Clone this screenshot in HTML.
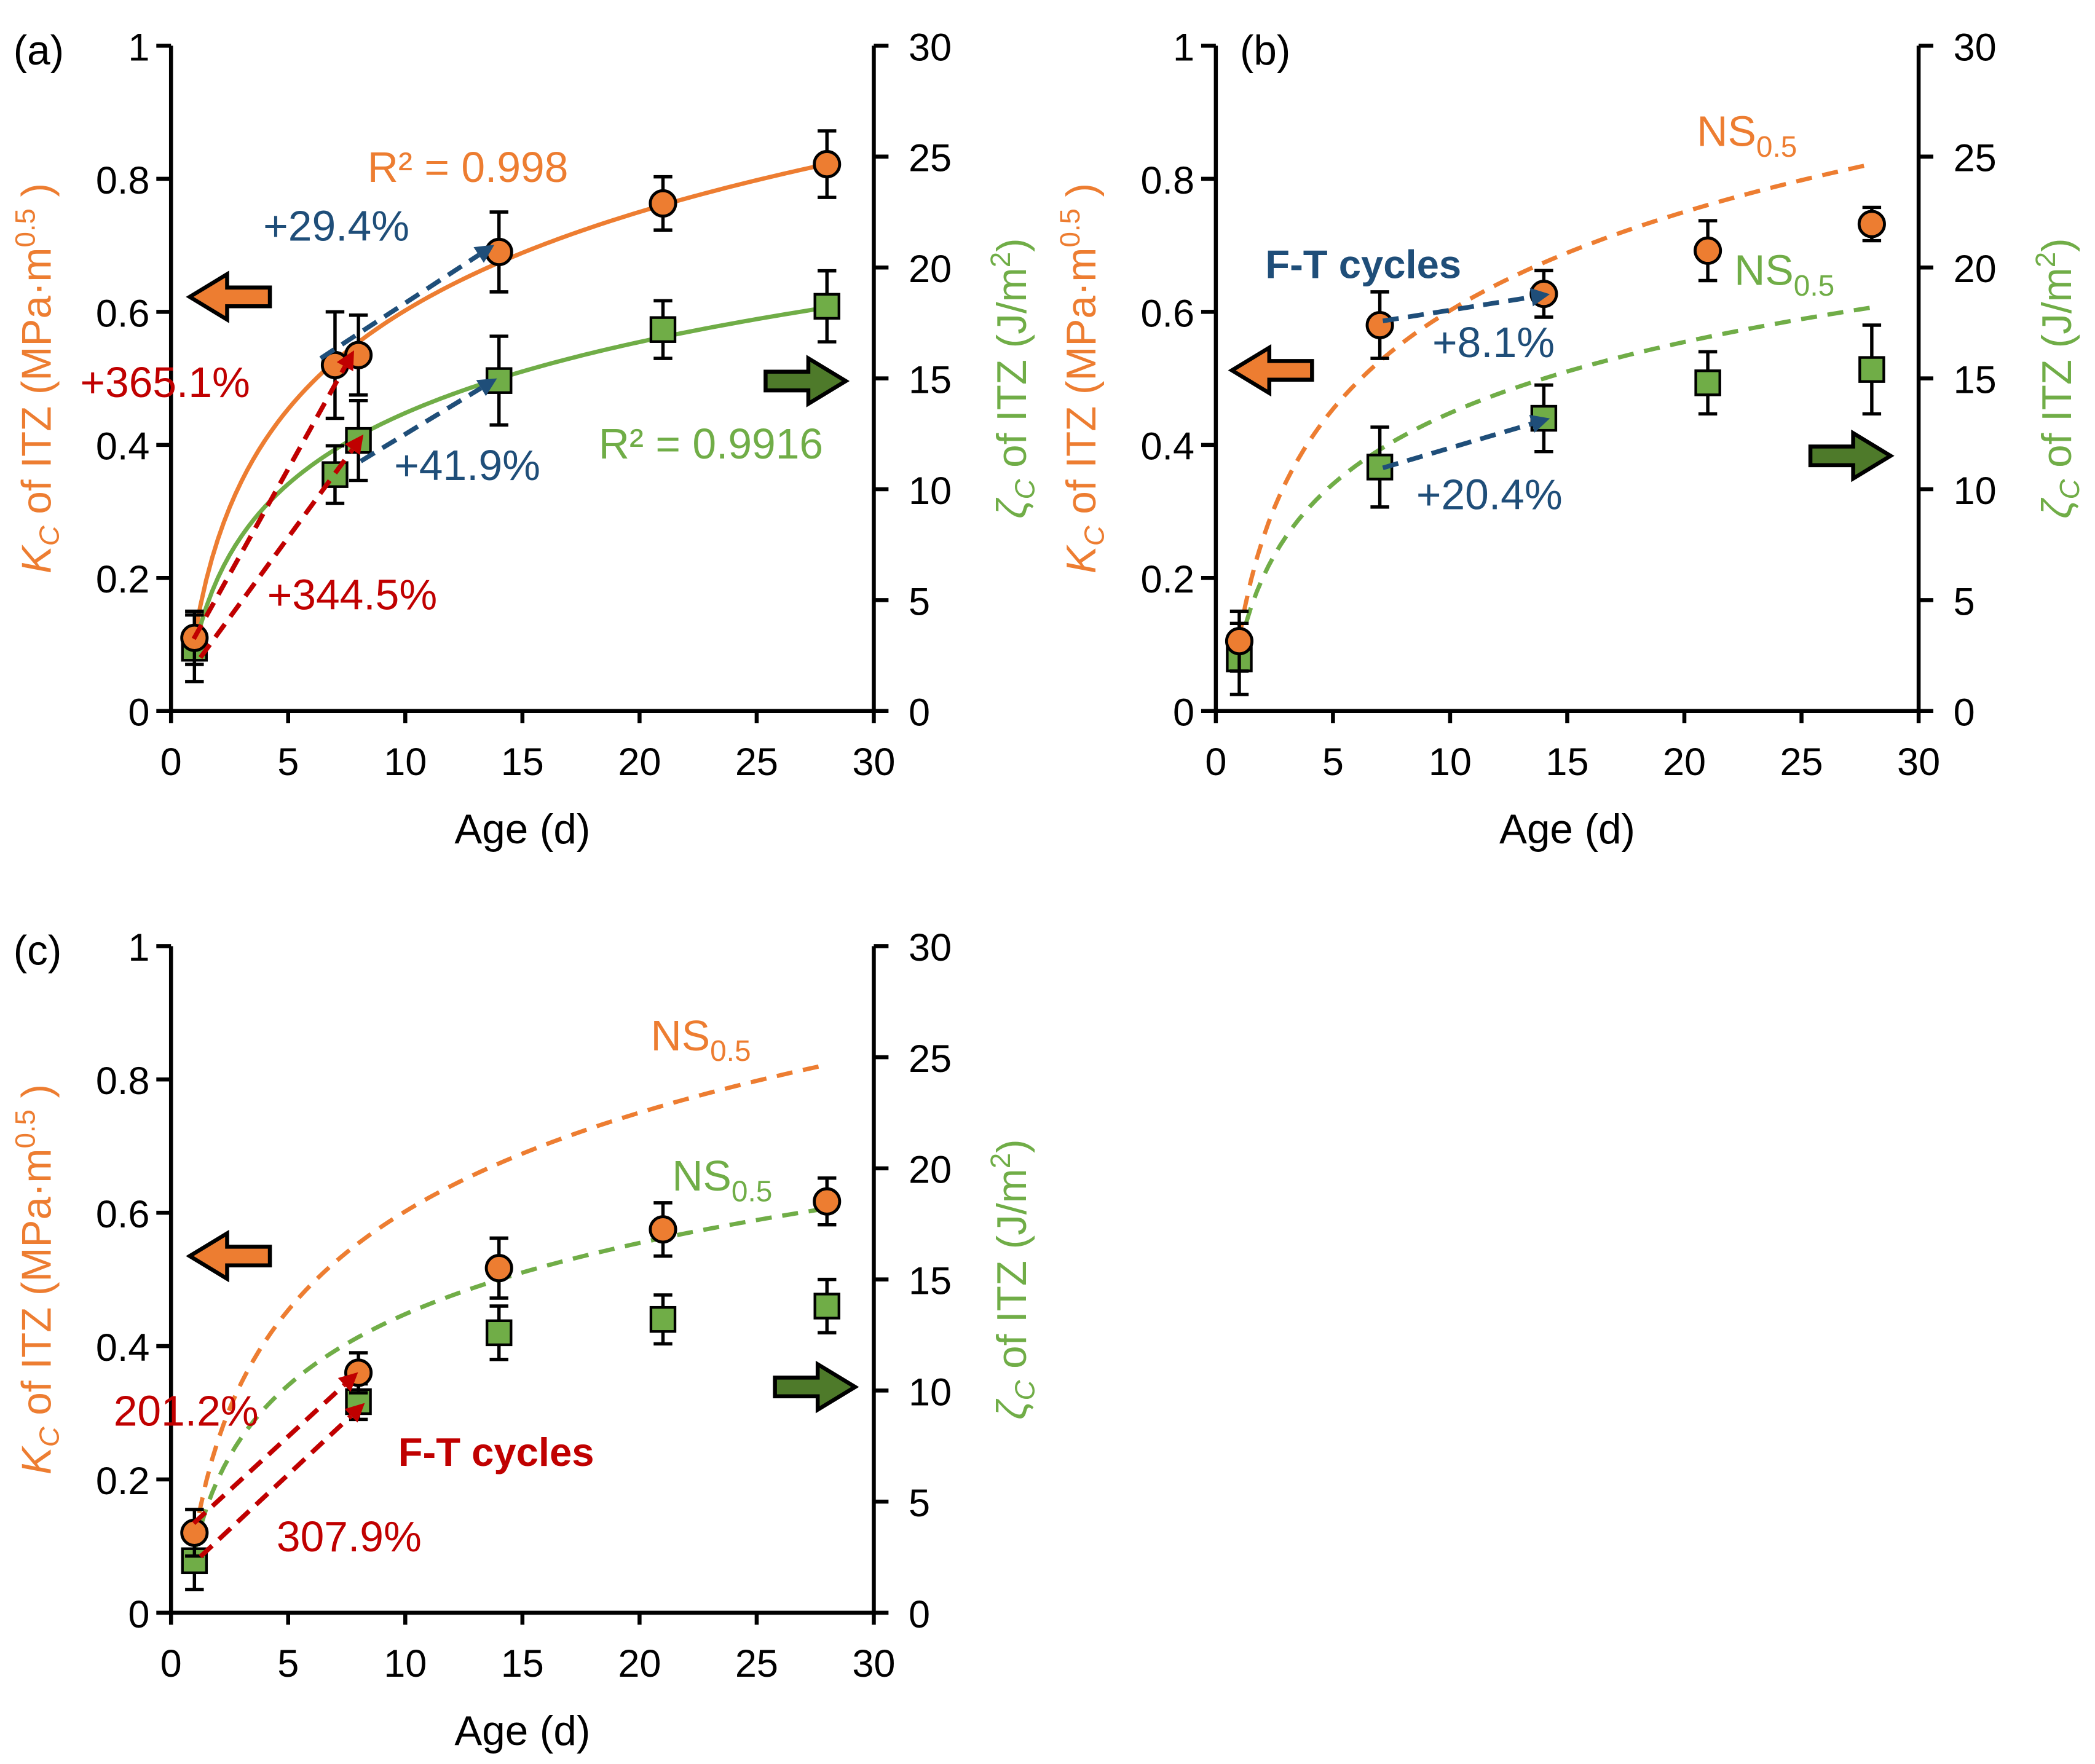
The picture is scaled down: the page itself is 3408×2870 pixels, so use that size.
<!DOCTYPE html>
<html><head><meta charset="utf-8"><style>
html,body{margin:0;padding:0;background:#fff}
svg{display:block}
text{font-family:"Liberation Sans",sans-serif}
</style></head><body>
<svg id="fig" xmlns="http://www.w3.org/2000/svg" width="3408" height="2870" viewBox="0 0 1568 1320"></svg>
<script>
// ---- data ----
const fitK = [0.11, 0.2137];   // K = a + b ln(t), NS0.5
const fitZ = [2.8, 4.62];      // zeta = a + b ln(t), NS0.5
const aDays = [1, 7, 8, 14, 21, 28];
const aK = [0.11, 0.52, 0.535, 0.69, 0.763, 0.822];
const aKerr = [0.04, 0.08, 0.06, 0.06, 0.04, 0.05];
const aZ = [2.83, 10.66, 12.2, 14.9, 17.2, 18.25];
const aZerr = [1.5, 1.3, 1.8, 2.0, 1.3, 1.6];
const bDays = [1, 7, 14, 21, 28];
const bK = [0.105, 0.58, 0.627, 0.692, 0.732];
const bKerr = [0.045, 0.05, 0.035, 0.045, 0.025];
const bZ = [2.35, 11.0, 13.2, 14.8, 15.4];
const bZerr = [1.6, 1.8, 1.5, 1.4, 2.0];
const cDays = [1, 8, 14, 21, 28];
const cK = [0.12, 0.36, 0.517, 0.575, 0.617];
const cKerr = [0.035, 0.03, 0.045, 0.04, 0.035];
const cZ = [2.34, 9.5, 12.6, 13.2, 13.8];
const cZerr = [1.3, 0.8, 1.2, 1.1, 1.2];
const xTicks = [0, 5, 10, 15, 20, 25, 30];
const kTicks = [0, 0.2, 0.4, 0.6, 0.8, 1];
const zTicks = [0, 5, 10, 15, 20, 25, 30];

const NS = "http://www.w3.org/2000/svg";
const svg = document.getElementById('fig');
const OR = "#ED7D31", GR = "#70AD47", BL = "#1F4E79", RD = "#C00000", DG = "#4E7A2A";
function el(tag, attrs, parent, txt) {
  const e = document.createElementNS(NS, tag);
  for (const k in attrs) e.setAttribute(k, attrs[k]);
  if (txt !== undefined) e.textContent = txt;
  (parent || svg).appendChild(e);
  return e;
}
function panel(id, x0, x1, y0, y1, days, K, Kerr, Z, Zerr, solid, label, lx) {
  const g = el('g', {});
  
  
  const sx = v => x0 + (x1 - x0) * v / 30;
  const sk = v => y0 - (y0 - y1) * v / 1;
  const sz = v => y0 - (y0 - y1) * v / 30;
  const ax = el('path', {d:`M${x0},${y1}V${y0}H${x1}V${y1}`, fill:'none', stroke:'#000', 'stroke-width':3}, g);
  
  
  xTicks.forEach(t => {
    el('line', {x1:sx(t), x2:sx(t), y1:y0, y2:y0+9, stroke:'#000','stroke-width':3}, g);
    const tl = el('text', {x:sx(t), y:y0+48, 'font-size':29, 'text-anchor':'middle'}, g, t);
    
    
  });
  kTicks.forEach(t => {
    el('line', {x1:x0-11, x2:x0, y1:sk(t), y2:sk(t), stroke:'#000','stroke-width':3}, g);
    const tl = el('text', {x:x0-16, y:sk(t)+11, 'font-size':29, 'text-anchor':'end'}, g, t);
    
    
  });
  zTicks.forEach(t => {
    el('line', {x1:x1, x2:x1+11, y1:sz(t), y2:sz(t), stroke:'#000','stroke-width':3}, g);
    const tl = el('text', {x:x1+26, y:sz(t)+11, 'font-size':29}, g, t);
    
    
  });
  const xt = el('text', {x:(x0+x1)/2, y:y0+99, 'font-size':31, 'text-anchor':'middle'}, g, 'Age (d)');
  
  
  const cy = (y0+y1)/2;
  const yl = el('text', {transform:`translate(${x0-90},${cy}) rotate(-90)`, 'font-size':31, fill:OR, 'text-anchor':'middle'}, g);
  yl.innerHTML = '<tspan font-style="italic">K</tspan><tspan font-size="21" dy="6" font-style="italic">C</tspan><tspan dy="-6"> of ITZ (MPa·m</tspan><tspan font-size="21" dy="-12">0.5</tspan><tspan dy="12"> )</tspan>';
  
  
  const yr = el('text', {transform:`translate(${x1+114},${cy}) rotate(-90)`, 'font-size':31, fill:GR, 'text-anchor':'middle'}, g);
  yr.innerHTML = '<tspan font-style="italic">ζ</tspan><tspan font-size="21" dy="6" font-style="italic">C</tspan><tspan dy="-6"> of ITZ (J/m</tspan><tspan font-size="21" dy="-12">2</tspan><tspan dy="12">)</tspan>';
  
  
  const pl = el('text', {x:lx, y:y1+14, 'font-size':31}, g, label);
  
  
  let pk = '', pz = '';
  for (let t = 1; t <= 28.001; t += 0.25) {
    pk += (pk ? 'L' : 'M') + sx(t).toFixed(2) + ',' + sk(fitK[0] + fitK[1]*Math.log(t)).toFixed(2);
    pz += (pz ? 'L' : 'M') + sx(t).toFixed(2) + ',' + sz(fitZ[0] + fitZ[1]*Math.log(t)).toFixed(2);
  }
  const dash = solid ? 'none' : '12 8';
  const ck = el('path', {d:pk, fill:'none', stroke:OR, 'stroke-width':3.2, 'stroke-dasharray':dash}, g);
  
  
  const cz = el('path', {d:pz, fill:'none', stroke:GR, 'stroke-width':3.2, 'stroke-dasharray':dash}, g);
  
  
  days.forEach((d, i) => {
    const x = sx(d), y = sz(Z[i]), e1 = sz(Z[i]+Zerr[i]), e2 = sz(Z[i]-Zerr[i]);
    el('path', {d:`M${x},${e1}V${e2}M${x-7},${e1}H${x+7}M${x-7},${e2}H${x+7}`, stroke:'#000','stroke-width':2.5, fill:'none'}, g);
    const m = el('rect', {x:x-9, y:y-9, width:18, height:18, fill:GR, stroke:'#000','stroke-width':2}, g);
    
    
  });
  days.forEach((d, i) => {
    const x = sx(d), y = sk(K[i]), e1 = sk(K[i]+Kerr[i]), e2 = sk(K[i]-Kerr[i]);
    el('path', {d:`M${x},${e1}V${e2}M${x-7},${e1}H${x+7}M${x-7},${e2}H${x+7}`, stroke:'#000','stroke-width':2.5, fill:'none'}, g);
    const m = el('circle', {cx:x, cy:y, r:9.5, fill:OR, stroke:'#000','stroke-width':2.2}, g);
    
    
  });
  return g;
}
function blockArrow(x, y, dir, color, name) {
  const w = 60, h = 34, hw = 28, sh = 16;
  const d = dir < 0
    ? `M${x},${y} L${x+hw},${y-h/2} V${y-sh/2+1} H${x+w} V${y+sh/2-1} H${x+hw} V${y+h/2} Z`
    : `M${x+w},${y} L${x+w-hw},${y-h/2} V${y-sh/2+1} H${x} V${y+sh/2-1} H${x+w-hw} V${y+h/2} Z`;
  const p = el('path', {d, fill:color, stroke:'#000','stroke-width':3,'stroke-linejoin':'miter'});
  
  
}
function dArrow(x1, y1, x2, y2, color, name) {
  const g = el('g', {});
  
  
  const a = Math.atan2(y2-y1, x2-x1), L = 14;
  const bx = x2 - L*Math.cos(a), by = y2 - L*Math.sin(a);
  el('line', {x1, y1, x2:bx, y2:by, stroke:color, 'stroke-width':3.5, 'stroke-dasharray':'12 7'}, g);
  const px = -Math.sin(a)*7, py = Math.cos(a)*7;
  el('path', {d:`M${x2},${y2}L${bx+px},${by+py}L${bx-px},${by-py}Z`, fill:color}, g);
}
function txt(x, y, s, color, name, opts) {
  const t = el('text', Object.assign({x, y, 'font-size':32, fill:color}, opts || {}));
  t.innerHTML = s;
  
  
}
const sub = '<tspan font-size="22" dy="8">0.5</tspan>';
panel('a', 128, 654, 532, 34, aDays, aK, aKerr, aZ, aZerr, true, '(a)', 10);
panel('b', 910, 1436, 532, 34, bDays, bK, bKerr, bZ, bZerr, false, '(b)', 928);
panel('c', 128, 654, 1207, 708, cDays, cK, cKerr, cZ, cZerr, false, '(c)', 10);

blockArrow(142, 222, -1, OR, 'left-axis-arrow');
blockArrow(573, 285, 1, DG, 'right-axis-arrow');
blockArrow(922, 277, -1, OR, 'left-axis-arrow');
blockArrow(1355, 341, 1, DG, 'right-axis-arrow');
blockArrow(142, 940, -1, OR, 'left-axis-arrow');
blockArrow(580, 1038, 1, DG, 'right-axis-arrow');

dArrow(145, 478, 265, 262, RD, 'increase-arrow-k');
dArrow(150, 492, 272, 325, RD, 'increase-arrow-zeta');
dArrow(240, 268, 370, 183, BL, 'increase-arrow-k-late');
dArrow(270, 345, 372, 283, BL, 'increase-arrow-zeta-late');
txt(275, 136, 'R² = 0.998', OR, 'r2-k-label');
txt(197, 180, '+29.4%', BL, 'pct-label');
txt(60, 297, '+365.1%', RD, 'pct-label');
txt(295, 359, '+41.9%', BL, 'pct-label');
txt(448, 343, 'R² = 0.9916', GR, 'r2-zeta-label');
txt(200, 456, '+344.5%', RD, 'pct-label');
dArrow(1035, 240, 1160, 220, BL, 'ft-arrow-k');
dArrow(1035, 350, 1160, 313, BL, 'ft-arrow-zeta');
txt(1270, 109, 'NS' + sub, OR, 'ns-k-label');
txt(947, 208, 'F-T cycles', BL, 'ft-label', {'font-weight':'bold', 'font-size':30});
txt(1298, 213, 'NS' + sub, GR, 'ns-zeta-label');
txt(1072, 267, '+8.1%', BL, 'pct-label');
txt(1060, 381, '+20.4%', BL, 'pct-label');
dArrow(145, 1140, 268, 1027, RD, 'ft-arrow-k');
dArrow(150, 1165, 273, 1050, RD, 'ft-arrow-zeta');
txt(487, 786, 'NS' + sub, OR, 'ns-k-label');
txt(503, 891, 'NS' + sub, GR, 'ns-zeta-label');
txt(85, 1067, '201.2%', RD, 'pct-label');
txt(298, 1097, 'F-T cycles', RD, 'ft-label', {'font-weight':'bold', 'font-size':30});
txt(207, 1161, '307.9%', RD, 'pct-label');
</script>
</body></html>
